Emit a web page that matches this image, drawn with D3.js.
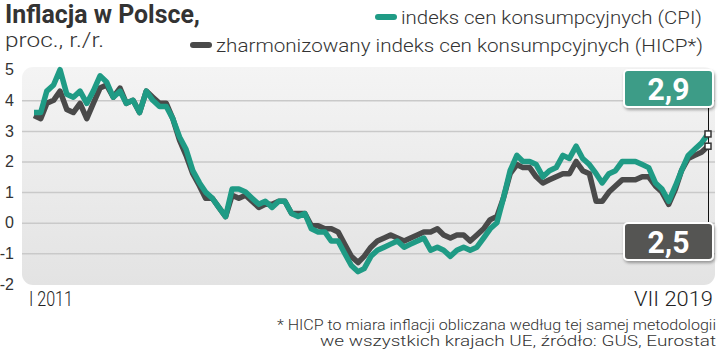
<!DOCTYPE html>
<html>
<head>
<meta charset="utf-8">
<script src="https://cdn.jsdelivr.net/npm/d3@7"></script>
<style>
  body { margin: 0; background: #fff; }
  svg { display: block; font-family: Roboto, "Noto Sans", sans-serif; }
</style>
</head>
<body>
<div id="chart"></div>
<script>
// monthly inflation, y/y, Jan 2011 - Jul 2019
const cpi = [
  3.6, 3.6, 4.3, 4.5, 5.0, 4.2, 4.1, 4.3, 3.9, 4.3, 4.8, 4.6,
  4.1, 4.3, 3.9, 4.0, 3.6, 4.3, 4.0, 3.8, 3.8, 3.4, 2.8, 2.4,
  1.7, 1.3, 1.0, 0.8, 0.5, 0.2, 1.1, 1.1, 1.0, 0.8, 0.6, 0.7,
  0.5, 0.7, 0.7, 0.3, 0.2, 0.3, -0.2, -0.3, -0.3, -0.6, -0.6, -1.0,
  -1.4, -1.6, -1.5, -1.1, -0.9, -0.8, -0.7, -0.6, -0.8, -0.7, -0.6, -0.5,
  -0.9, -0.8, -0.9, -1.1, -0.9, -0.8, -0.9, -0.8, -0.5, -0.2, 0.0, 0.8,
  1.7, 2.2, 2.0, 2.0, 1.9, 1.5, 1.7, 1.8, 2.2, 2.1, 2.5, 2.1,
  1.9, 1.6, 1.3, 1.6, 1.7, 2.0, 2.0, 2.0, 1.9, 1.8, 1.3, 1.1,
  0.7, 1.2, 1.7, 2.2, 2.4, 2.6, 2.9
];
const hicp = [
  3.5, 3.4, 3.9, 4.0, 4.3, 3.7, 3.6, 3.9, 3.4, 3.9, 4.4, 4.5,
  4.1, 4.4, 3.9, 4.0, 3.6, 4.3, 4.1, 3.9, 3.9, 3.4, 2.7, 2.2,
  1.6, 1.2, 0.8, 0.8, 0.5, 0.2, 0.9, 0.8, 0.9, 0.7, 0.5, 0.6,
  0.6, 0.7, 0.7, 0.3, 0.3, 0.3, -0.1, -0.1, -0.2, -0.2, -0.3, -0.7,
  -1.1, -1.3, -1.1, -0.8, -0.6, -0.5, -0.4, -0.5, -0.6, -0.5, -0.4, -0.3,
  -0.3, -0.2, -0.4, -0.5, -0.4, -0.4, -0.6, -0.4, -0.2, 0.1, 0.2, 0.8,
  1.6, 1.9, 1.8, 1.8, 1.5, 1.3, 1.4, 1.5, 1.6, 1.6, 2.0, 1.7,
  1.6, 0.7, 0.7, 1.0, 1.2, 1.4, 1.4, 1.4, 1.5, 1.5, 1.2, 1.0,
  0.6, 1.1, 1.7, 2.1, 2.2, 2.3, 2.5
];
const months = d3.timeMonths(new Date(2011, 0, 1), new Date(2019, 7, 1));
const yTicks = [-2, -1, 0, 1, 2, 3, 4, 5];
const xLabels = ["I 2011", "VII 2019"];

const width = 720, height = 351;
const teal = "#1f9b85", gray = "#4a4a4a";

const svg = d3.select("#chart").append("svg")
  .attr("width", width)
  .attr("height", height);

const x = d3.scaleTime()
  .domain([months[0], months[months.length - 1]])
  .range([34, 708]);

const y = d3.scaleLinear()
  .domain([-2, 5])
  .range([283.9, 69.7]);

// background panel
const defs = svg.append("defs");
const grad = defs.append("linearGradient")
  .attr("id", "bg").attr("x1", 0).attr("y1", 0).attr("x2", 0).attr("y2", 1);
grad.append("stop").attr("offset", "0%").attr("stop-color", "#f4f4f4");
grad.append("stop").attr("offset", "100%").attr("stop-color", "#e3e3e3");

const shadow = defs.append("filter").attr("id", "shadow")
  .attr("x", "-20%").attr("y", "-20%").attr("width", "140%").attr("height", "160%");
shadow.append("feDropShadow")
  .attr("dx", 1).attr("dy", 2).attr("stdDeviation", 1.5)
  .attr("flood-color", "#000").attr("flood-opacity", 0.35);

svg.append("rect")
  .attr("x", 22).attr("y", 67)
  .attr("width", 693).attr("height", 218)
  .attr("rx", 11)
  .attr("fill", "url(#bg)");

// y axis with grid
const yAxis = svg.append("g")
  .attr("transform", "translate(22,0)")
  .call(d3.axisLeft(y)
    .tickValues(yTicks)
    .tickSize(-693)
    .tickPadding(8)
    .tickFormat(d => String(d)));
yAxis.select(".domain").remove();
yAxis.selectAll(".tick line")
  .attr("stroke", "#c9c9c9")
  .attr("stroke-width", 1.5)
  .attr("opacity", d => (d === 5 || d === -2) ? 0 : 1);
yAxis.selectAll(".tick text")
  .attr("fill", "#333")
  .attr("font-size", 16)
  .attr("font-weight", 300);

// lines
const line = d3.line()
  .x((d, i) => x(months[i]))
  .y(d => y(d));

svg.append("path")
  .datum(hicp)
  .attr("d", line)
  .attr("fill", "none")
  .attr("stroke", gray)
  .attr("stroke-width", 5.5)
  .attr("stroke-linejoin", "round");

svg.append("path")
  .datum(cpi)
  .attr("d", line)
  .attr("fill", "none")
  .attr("stroke", teal)
  .attr("stroke-width", 5.5)
  .attr("stroke-linejoin", "round");

// end markers and value boxes
const last = months.length - 1;
const xEnd = x(months[last]);

svg.append("line")
  .attr("x1", xEnd + 0.5).attr("x2", xEnd + 0.5)
  .attr("y1", 107).attr("y2", 223)
  .attr("stroke", "#111").attr("stroke-width", 1);

[cpi[last], hicp[last]].forEach(v => {
  svg.append("rect")
    .attr("x", xEnd - 3).attr("y", y(v) - 3)
    .attr("width", 6).attr("height", 6)
    .attr("fill", "#fff")
    .attr("stroke", "#333")
    .attr("stroke-width", 1.5);
});

const fmt = v => d3.format(".1f")(v).replace(".", ",");
const boxes = [
  { value: cpi[last], top: 70, fill: "#3d9c87" },
  { value: hicp[last], top: 223, fill: "#555553" }
];
boxes.forEach(b => {
  svg.append("rect")
    .attr("x", 624).attr("y", b.top)
    .attr("width", 89).attr("height", 37)
    .attr("rx", 4)
    .attr("fill", b.fill)
    .attr("stroke", "#fff")
    .attr("stroke-width", 2)
    .attr("filter", "url(#shadow)");
  svg.append("text")
    .attr("x", 668.5).attr("y", b.top + 30)
    .attr("text-anchor", "middle")
    .attr("fill", "#fff")
    .attr("font-size", 31)
    .attr("font-weight", 700)
    .attr("textLength", 42)
    .attr("lengthAdjust", "spacingAndGlyphs")
    .text(fmt(b.value));
});

// x labels
svg.append("text")
  .attr("x", 29).attr("y", 306)
  .attr("fill", "#222").attr("font-size", 20).attr("font-weight", 300)
  .attr("textLength", 44).attr("lengthAdjust", "spacingAndGlyphs")
  .text(xLabels[0]);
svg.append("text")
  .attr("x", 713).attr("y", 306)
  .attr("text-anchor", "end")
  .attr("fill", "#222").attr("font-size", 20).attr("font-weight", 300)
  .attr("textLength", 79).attr("lengthAdjust", "spacingAndGlyphs")
  .text(xLabels[1]);

// title
svg.append("text")
  .attr("x", 5).attr("y", 23)
  .attr("fill", "#333").attr("font-size", 25).attr("font-weight", 700)
  .attr("textLength", 195).attr("lengthAdjust", "spacingAndGlyphs")
  .text("Inflacja w Polsce,");
svg.append("text")
  .attr("x", 5).attr("y", 47)
  .attr("fill", "#333").attr("font-size", 21).attr("font-weight", 300)
  .attr("textLength", 99).attr("lengthAdjust", "spacingAndGlyphs")
  .text("proc., r./r.");

// legend
const legend = [
  { label: "indeks cen konsumpcyjnych (CPI)", color: teal, px: 375, tx: 401, ty: 24, len: 301 },
  { label: "zharmonizowany indeks cen konsumpcyjnych (HICP*)", color: gray, px: 190, tx: 216, ty: 52, len: 487 }
];
legend.forEach(l => {
  svg.append("line")
    .attr("x1", l.px + 3).attr("x2", l.px + 19)
    .attr("y1", l.ty - 7).attr("y2", l.ty - 7)
    .attr("stroke", l.color).attr("stroke-width", 6)
    .attr("stroke-linecap", "round");
  svg.append("text")
    .attr("x", l.tx).attr("y", l.ty)
    .attr("fill", "#333").attr("font-size", 19).attr("font-weight", 300)
    .attr("textLength", l.len).attr("lengthAdjust", "spacingAndGlyphs")
    .text(l.label);
});

// footnote
const notes = [
  { text: "* HICP to miara inflacji obliczana według tej samej metodologii", y: 330, len: 439 },
  { text: "we wszystkich krajach UE, źródło: GUS, Eurostat", y: 346, len: 396 }
];
notes.forEach(n => {
  svg.append("text")
    .attr("x", 716).attr("y", n.y)
    .attr("text-anchor", "end")
    .attr("fill", "#333").attr("font-size", 14.5).attr("font-weight", 300)
    .attr("textLength", n.len).attr("lengthAdjust", "spacingAndGlyphs")
    .text(n.text);
});
</script>
</body>
</html>
